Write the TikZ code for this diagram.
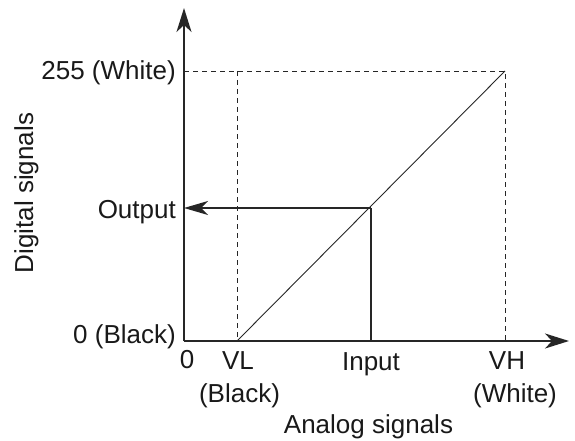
\documentclass[tikz,border=0pt]{standalone}
\usepackage{fontspec}
\setmainfont{Liberation Sans}
\usetikzlibrary{arrows.meta}
\begin{document}
\begin{tikzpicture}[x=1pt,y=-1pt,
  axis/.style={line width=1.8pt,draw=black!85,-{Stealth[length=24pt,width=15pt,inset=7pt]}},
  thickline/.style={line width=1.8pt,draw=black!85},
  thinline/.style={line width=0.9pt,draw=black!85},
  guide/.style={line width=0.9pt,draw=black!85,dash pattern=on 5pt off 4pt},
  lbl/.style={inner sep=0pt,font=\fontsize{26}{31}\selectfont,text=black!90}]
\useasboundingbox (0,0) rectangle (575,441);
\coordinate (O) at (184,341);
\coordinate (ytip) at (184,8);
\coordinate (xtip) at (569,341);
\coordinate (VL) at (237,341);
\coordinate (VLtop) at (237,71);
\coordinate (top) at (505,71);
\coordinate (VH) at (505,341);
\coordinate (y255) at (184,71);
\coordinate (inp) at (371,341);
\coordinate (pt) at (371,208);
\coordinate (outp) at (184,208);
% guides
\draw[guide] (y255) -- (top) -- (VH);
\draw[guide] (VLtop) -- (VL);
% transfer line
\draw[thinline] (VL) -- (top);
% input/output
\draw[thickline] (inp) -- (pt);
\draw[thickline,-{Stealth[length=24pt,width=14pt,inset=7pt]}] (pt) -- (outp);
% axes
\draw[axis] (O) -- (ytip);
\draw[axis] (O) -- (xtip);
% labels
\node[lbl,anchor=base east] (l255) at (176,80) {255 (White)};
\node[lbl,anchor=base east] (lout) at (176,218) {Output};
\node[lbl,anchor=base east] (l0b) at (176,343) {0 (Black)};
\node[lbl,anchor=base] (l0) at (187,368) {0};
\node[lbl,anchor=base] (lvl) at (238,369) {VL};
\node[lbl,anchor=base] (lblack) at (239.5,402) {(Black)};
\node[lbl,anchor=base] (linput) at (371,370) {Input};
\node[lbl,anchor=base] (lvh) at (507,369) {VH};
\node[lbl,anchor=base] (lwhite) at (515,402) {(White)};
\node[lbl,anchor=base] (lanalog) at (368.5,433) {Analog signals};
\node[lbl,anchor=base,rotate=90] (ldigital) at (33,193) {Digital signals};
\end{tikzpicture}
\end{document}
